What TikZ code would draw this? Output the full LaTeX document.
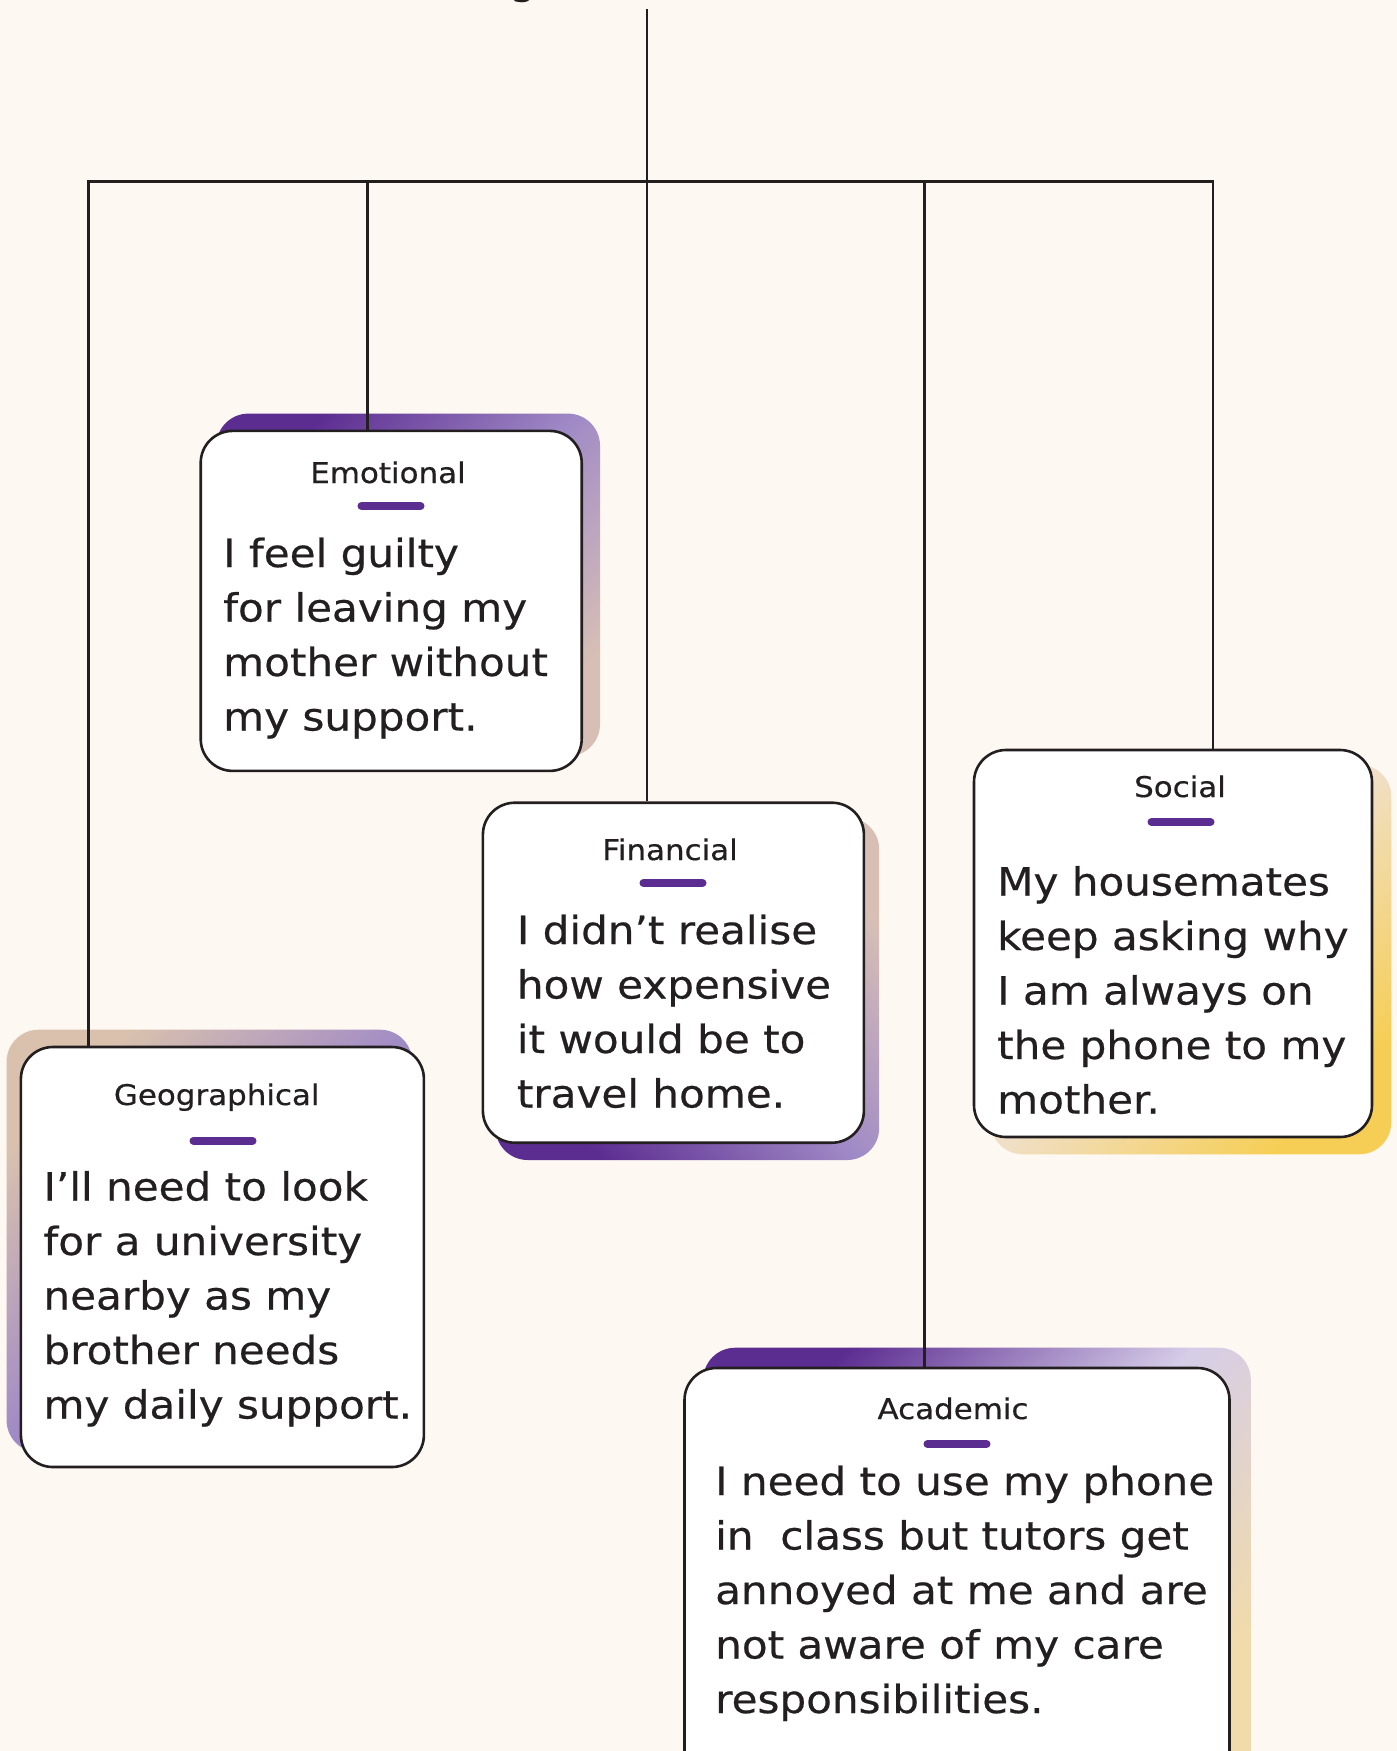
\documentclass[tikz,border=0pt]{standalone}
\usepackage{fontspec}
\setmainfont{DejaVu Sans}[FakeStretch=1.085, FakeBold=0.5]
\usetikzlibrary{backgrounds}

\definecolor{ink}{HTML}{231F20}
\definecolor{pagebg}{HTML}{FDF8F1}
\definecolor{accent}{HTML}{5B2D90}
\definecolor{plum}{HTML}{5C2D91}
\definecolor{lavender}{HTML}{A08AC6}
\definecolor{blush}{HTML}{D7BFB6}
\definecolor{tan}{HTML}{D9C1AE}
\definecolor{violet}{HTML}{8F74BE}
\definecolor{sun}{HTML}{F6CE55}
\definecolor{paleglow}{HTML}{F4E8DC}
\definecolor{sand}{HTML}{F0DFC6}
\definecolor{mist}{HTML}{D6CDE8}
\definecolor{straw}{HTML}{F1DBAA}

\pgfdeclarelayer{shade}
\pgfsetlayers{background,shade,main}

\tikzset{
  card/.style={draw=ink, line width=2.6pt, fill=white, rounded corners=32pt, inner sep=0pt},
  headline/.style={font=\fontsize{28.5}{34}\selectfont, text=ink, anchor=base, inner sep=0pt},
  % multi-line quotes are anchored at the baseline of their last line
  quote/.style={font=\fontsize{38.8}{54.5}\selectfont, text=ink, align=left, anchor=base west, inner sep=0pt},
  rule/.style={draw=accent, line width=8pt, line cap=round},
  wire/.style={draw=ink, line width=2.9pt, line join=miter},
  glow/.style={rounded corners=32pt}
}

\begin{document}
\begin{tikzpicture}[x=1pt,y=-1pt]
\useasboundingbox (0,0) rectangle (1397,1751);
\begin{pgfonlayer}{background}
  \fill[pagebg] (0,0) rectangle (1397,1751);
\end{pgfonlayer}

% clipped descender of the heading above the tree
\node[font=\fontsize{39}{40}\selectfont, text=ink, anchor=base, inner sep=0pt] (frag) at (523,-6) {g};

% cards
\node[card, minimum width=381pt, minimum height=340pt] (emo) at (391.2,600.9) {};
\node[card, minimum width=381pt, minimum height=340pt] (fin) at (673.4,972.7) {};
\node[card, minimum width=398pt, minimum height=387pt] (soc) at (1173,943.5) {};
\node[card, minimum width=403pt, minimum height=420pt] (geo) at (222.4,1257) {};
\node[card, minimum width=545pt, minimum height=432pt] (aca) at (957,1584) {};

% coloured offsets behind the cards
\begin{pgfonlayer}{shade}
  \shade[glow, top color=plum, bottom color=blush, middle color=lavender, shading angle=45]
    ([shift={(17,-16)}]emo.south west) rectangle ([shift={(17,-16)}]emo.north east);
  \shade[glow, top color=blush, bottom color=plum, middle color=lavender, shading angle=-45]
    ([shift={(14,16)}]fin.south west) rectangle ([shift={(14,16)}]fin.north east);
  \shade[glow, top color=paleglow, bottom color=sun, middle color=sand, shading angle=45]
    ([shift={(18,16)}]soc.south west) rectangle ([shift={(18,16)}]soc.north east);
  \shade[glow, top color=tan, bottom color=violet, middle color=lavender, shading angle=45]
    ([shift={(-13,-16)}]geo.south west) rectangle ([shift={(-13,-16)}]geo.north east);
  \shade[glow, top color=plum, bottom color=straw, middle color=mist, shading angle=45]
    ([shift={(20,-19)}]aca.south west) rectangle ([shift={(20,-19)}]aca.north east);
\end{pgfonlayer}

% tree wiring
\coordinate (root) at (647,9);
\coordinate (busL) at (88.8,181.5);
\coordinate (busR) at (1213,181.5);
\coordinate (emoJ) at (367.7,181.5);
\coordinate (acaJ) at (924.7,181.5);
\draw[wire] (root) -- (root |- fin.north);
\draw[wire] (busL |- geo.north) -- (busL) -- (busR) -- (busR |- soc.north);
\draw[wire] (emoJ) -- (emoJ |- emo.north);
\draw[wire] (acaJ) -- (acaJ |- aca.north);

% Emotional
\node[headline] (emoT) at (388,483) {Emotional};
\draw[rule] (361.5,506) -- (420.5,506);
\node[quote] (emoQ) at (223,730.5) {I feel guilty\\for leaving my\\mother without\\my support.};

% Financial
\node[headline] (finT) at (670,860) {Financial};
\draw[rule] (643.5,883) -- (702.5,883);
\node[quote] (finQ) at (516.7,1107.5) {I didn’t realise\\how expensive\\it would be to\\travel home.};

% Social
\node[headline] (socT) at (1180,797) {Social};
\draw[rule] (1151.5,822) -- (1210.5,822);
\node[quote] (socQ) at (997,1113.5) {My housemates\\keep asking why\\I am always on\\the phone to my\\mother.};

% Geographical
\node[headline] (geoT) at (216.7,1105) {Geographical};
\draw[rule] (193.5,1140.7) -- (252.5,1140.7);
\node[quote] (geoQ) at (43.3,1418.5) {I’ll need to look\\for a university\\nearby as my\\brother needs\\my daily support.};

% Academic
\node[headline] (acaT) at (953,1419) {Academic};
\draw[rule] (927.5,1444) -- (986.5,1444);
\node[quote] (acaQ) at (715,1713) {I need to use my phone\\in~ class but tutors get\\annoyed at me and are\\not aware of my care\\responsibilities.};
\end{tikzpicture}
\end{document}
